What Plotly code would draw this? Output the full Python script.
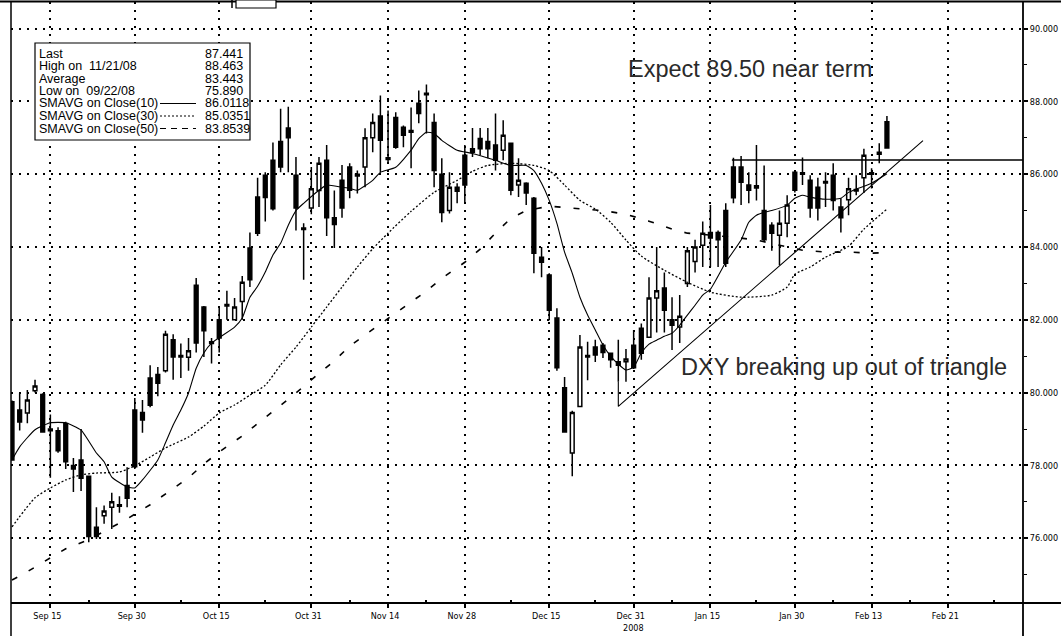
import plotly.graph_objects as go

# ---------------- data ----------------
bar_idx = list(range(115))  # trading days, Sep 8 2008 .. Feb 17 2009
opens = [79.75, 79.52, 79.44, 80.05, 79.95, 79.00, 78.95, 79.15, 78.00, 78.15,
         77.70, 76.30, 76.62, 76.85, 76.92, 77.45, 79.52, 79.45, 80.40, 80.50,
         80.60, 81.45, 81.02, 80.97, 82.95, 82.35, 81.40, 82.00, 82.42, 82.00,
         82.50, 83.97, 85.37, 85.97, 86.38, 86.90, 87.27, 85.97, 84.52, 85.07,
         85.55, 86.38, 84.80, 85.83, 86.20, 86.00, 86.20, 87.00, 87.60, 86.45,
         87.56, 87.29, 87.20, 87.95, 88.22, 87.42, 86.00, 85.00, 85.64, 86.52,
         86.70, 86.98, 86.90, 86.80, 86.66, 86.85, 85.70, 85.75, 85.34, 83.72,
         83.23, 82.05, 80.13, 78.34, 79.62, 81.02, 81.25, 81.30, 81.08, 80.85,
         80.85, 81.30, 81.77, 81.52, 82.60, 82.87, 82.00, 81.80, 83.00, 83.60,
         84.05, 84.40, 84.40, 85.00, 86.20, 86.20, 85.70, 85.68, 85.00, 84.60,
         84.32, 84.65, 86.05, 86.04, 85.83, 85.64, 85.80, 85.97, 85.10, 85.30,
         85.58, 85.90, 86.04, 86.55, 87.44]
highs = [79.78, 79.98, 80.07, 80.35, 79.98, 79.40, 79.05, 79.20, 78.20, 79.00,
         77.72, 76.85, 76.90, 77.25, 77.15, 77.95, 79.85, 79.80, 80.75, 80.70,
         81.70, 81.60, 81.35, 81.50, 83.15, 82.38, 81.50, 82.35, 82.80, 82.60,
         83.20, 84.40, 85.90, 86.05, 86.87, 87.80, 87.85, 86.47, 84.65, 86.20,
         86.47, 86.80, 85.55, 86.25, 86.30, 86.10, 87.26, 87.67, 88.16, 87.75,
         87.70, 87.34, 87.83, 88.30, 88.463, 87.67, 86.44, 86.05, 85.75, 86.80,
         87.27, 87.27, 87.27, 87.67, 87.48, 86.87, 86.44, 85.78, 85.37, 84.00,
         83.28, 82.32, 80.43, 79.50, 81.58, 81.40, 81.45, 81.36, 81.10, 81.45,
         81.20, 81.72, 81.90, 83.17, 84.00, 83.30, 82.62, 82.68, 84.00, 84.20,
         84.70, 85.15, 84.45, 85.20, 86.45, 86.50, 86.05, 86.80, 86.24, 84.68,
         85.00, 85.42, 86.10, 86.46, 85.97, 85.90, 86.05, 86.30, 85.34, 85.90,
         85.97, 86.70, 86.16, 86.85, 87.60]
lows = [78.13, 78.96, 79.16, 80.00, 78.90, 77.66, 78.35, 77.90, 77.27, 77.30,
        75.89, 75.98, 76.40, 76.25, 76.70, 76.85, 77.90, 78.90, 79.60, 79.90,
        80.55, 80.35, 80.40, 80.60, 81.10, 80.98, 80.80, 81.10, 82.00, 81.98,
        82.00, 82.90, 84.30, 84.70, 85.00, 86.05, 86.05, 84.45, 83.10, 84.90,
        85.10, 84.30, 83.97, 84.80, 85.34, 85.47, 85.64, 86.60, 86.05, 86.33,
        86.70, 86.74, 86.16, 87.40, 87.12, 85.64, 84.68, 84.92, 85.20, 85.23,
        86.47, 86.52, 86.44, 86.10, 86.38, 85.42, 85.37, 85.15, 83.28, 83.17,
        81.99, 80.60, 78.90, 77.70, 79.60, 80.34, 80.84, 80.95, 80.68, 80.30,
        80.30, 80.65, 80.90, 81.50, 81.65, 81.65, 81.17, 81.36, 82.90, 83.30,
        83.45, 83.45, 83.45, 83.45, 85.20, 85.15, 85.20, 85.28, 84.15, 83.90,
        83.50, 84.27, 85.50, 85.70, 84.80, 84.73, 85.10, 85.00, 84.40, 84.87,
        85.42, 85.48, 85.61, 86.30, 86.70]
closes = [78.15, 79.19, 79.80, 80.18, 78.92, 78.95, 78.40, 78.10, 77.90, 77.65,
          76.05, 76.05, 76.75, 77.00, 76.88, 77.10, 77.96, 79.25, 79.65, 80.26,
          81.60, 80.98, 80.98, 81.15, 81.36, 81.70, 81.35, 81.50, 82.38, 82.35,
          83.03, 83.10, 84.38, 85.36, 85.05, 86.20, 87.00, 85.07, 84.48, 85.60,
          86.30, 84.80, 84.62, 85.07, 85.56, 85.95, 87.00, 87.42, 86.93, 86.40,
          86.74, 87.07, 87.15, 87.67, 88.18, 86.10, 84.95, 85.64, 85.53, 85.70,
          86.60, 86.70, 86.70, 86.38, 87.07, 85.56, 85.83, 85.48, 83.83, 83.58,
          82.26, 80.68, 78.92, 79.45, 81.25, 80.98, 81.03, 81.10, 80.90, 80.75,
          80.92, 80.68, 81.08, 82.60, 82.80, 82.26, 81.85, 82.10, 83.90, 84.00,
          84.38, 84.25, 84.20, 83.55, 85.35, 85.78, 85.56, 85.62, 84.20, 84.38,
          84.65, 85.15, 85.56, 86.00, 85.07, 85.07, 85.76, 85.28, 84.80, 85.60,
          85.54, 86.52, 86.00, 86.60, 86.72]

sma10_x = [0, 1, 3, 5, 7, 9, 11, 12, 13, 15, 16, 17, 19, 20, 21, 22, 23, 24, 25, 26,
           29, 30, 31, 32, 33, 34, 35, 36, 37, 38, 40, 41, 43, 44, 45, 47, 48, 50, 52, 53,
           54, 55, 56, 58, 60, 63, 65, 67, 68, 69, 70, 71, 72, 73, 74, 75, 76, 77, 78, 79,
           80, 81, 82, 83, 84, 85, 86, 87, 88, 89, 90, 91, 93, 95, 96, 97, 98, 99, 101, 102,
           103, 104, 106, 108, 109, 110, 112, 114]
sma10_y = [78.15, 78.51, 78.98, 79.17, 79.17, 78.97, 78.34, 78.10, 77.68, 77.41,
           77.38, 77.60, 78.15, 78.62, 79.11, 79.52, 79.99, 80.67, 81.09, 81.36,
           81.80, 82.05, 82.62, 82.92, 83.31, 83.78, 84.10, 84.60, 85.00, 85.20,
           85.56, 85.70, 85.64, 85.61, 85.56, 85.83, 86.05, 86.19, 86.66, 86.98,
           87.15, 87.12, 86.93, 86.66, 86.57, 86.38, 86.24, 86.24, 86.10, 85.75,
           85.28, 84.65, 83.86, 83.28, 82.62, 82.13, 81.72, 81.31, 81.00, 80.78,
           80.62, 80.70, 81.09, 81.33, 81.44, 81.55, 81.63, 81.85, 82.13, 82.40,
           82.68, 82.84, 83.58, 84.19, 84.68, 84.87, 84.95, 85.00, 85.15, 85.34,
           85.42, 85.37, 85.31, 85.34, 85.50, 85.59, 85.75, 86.01]

sma30_x = [0, 3, 5, 7, 9, 11, 14, 16, 18, 20, 23, 25, 27, 29, 31, 33, 35, 37, 39, 41,
           43, 45, 47, 49, 52, 55, 58, 60, 62, 65, 68, 70, 72, 74, 76, 78, 80, 82, 85, 88,
           91, 95, 99, 101, 102, 104, 106, 109, 111, 114]
sma30_y = [76.31, 77.11, 77.38, 77.60, 77.74, 77.79, 77.82, 77.99, 78.23, 78.48,
           78.78, 79.08, 79.44, 79.66, 79.93, 80.20, 80.76, 81.25, 81.80, 82.35,
           82.90, 83.45, 83.95, 84.38, 84.98, 85.50, 85.83, 86.08, 86.24, 86.30,
           86.24, 86.10, 85.70, 85.28, 85.04, 84.68, 84.19, 83.75, 83.36, 83.03,
           82.76, 82.62, 82.68, 82.90, 83.25, 83.45, 83.72, 84.02, 84.49, 85.04]

sma50_x = [0, 2, 5, 7, 10, 15, 18, 20, 23, 25, 27, 30, 32, 35, 37, 39, 42, 44, 46, 49,
           51, 54, 56, 59, 61, 63, 65, 67, 70, 74, 77, 80, 83, 86, 88, 94, 97, 100, 103, 106,
           109, 112, 114]
sma50_y = [74.85, 75.08, 75.46, 75.71, 75.96, 76.53, 76.92, 77.22, 77.66, 78.04,
           78.37, 78.81, 79.14, 79.66, 79.99, 80.35, 80.87, 81.28, 81.58, 82.05,
           82.35, 82.79, 83.14, 83.58, 83.94, 84.38, 84.79, 85.00, 85.12, 85.06,
           85.00, 84.90, 84.71, 84.49, 84.38, 84.27, 84.19, 84.05, 83.91, 83.86,
           83.86, 83.83, 83.85]

# hand-drawn triangle lines
trend_x = [79, 79, 118.7]
trend_y = [80.30, 79.62, 86.92]
resist_x = [93.8, 131.73]
resist_y = [86.39, 86.39]

tick_idx = [5, 16, 27, 39, 49, 59, 70, 81, 91, 102, 112, 122]
tick_text = ["Sep 15", "Sep 30", "Oct 15", "Oct 31", "Nov 14", "Nov 28",
             "Dec 15", "Dec 31", "Jan 15", "Jan 30", "Feb 13", "Feb 21"]
minor_idx = [10, 22, 33, 44, 54, 65, 76, 86, 97, 107, 117, 128]
y_major = [76, 78, 80, 82, 84, 86, 88, 90]
y_minor = [75, 77, 79, 81, 83, 85, 87, 89]

legend_labels = ["Last", "High on  11/21/08", "Average", "Low on  09/22/08",
                 "SMAVG on Close(10)", "SMAVG on Close(30)", "SMAVG on Close(50)"]
legend_values = ["87.441", "88.463", "83.443", "75.890", "86.0118", "85.0351", "83.8539"]

# ---------------- layout helpers ----------------
W, H = 1061, 636
PL, PR, PT, PB = 11, 1023, 2, 603


def px(x):
    return (x - PL) / (PR - PL)


def py(y):
    return (PB - y) / (PB - PT)


fig = go.Figure()

fig.add_trace(go.Scatter(x=sma30_x, y=sma30_y, mode="lines",
                         line=dict(color="black", width=1.3, dash="2px,2px", shape="spline", smoothing=0.6),
                         hoverinfo="skip", showlegend=False))
fig.add_trace(go.Scatter(x=sma50_x, y=sma50_y, mode="lines",
                         line=dict(color="black", width=1.6, dash="6px,13px"),
                         hoverinfo="skip", showlegend=False))
fig.add_trace(go.Candlestick(x=bar_idx, open=opens, high=highs, low=lows, close=closes,
                             increasing=dict(line=dict(color="black", width=1.5), fillcolor="white"),
                             decreasing=dict(line=dict(color="black", width=1.5), fillcolor="black"),
                             whiskerwidth=0, showlegend=False))
fig.add_trace(go.Scatter(x=sma10_x, y=sma10_y, mode="lines",
                         line=dict(color="black", width=1.1, shape="spline", smoothing=0.5),
                         hoverinfo="skip", showlegend=False))
fig.add_trace(go.Scatter(x=trend_x, y=trend_y, mode="lines",
                         line=dict(color="black", width=1.1), hoverinfo="skip", showlegend=False))
fig.add_trace(go.Scatter(x=resist_x, y=resist_y, mode="lines",
                         line=dict(color="black", width=1.6), hoverinfo="skip", showlegend=False,
                         cliponaxis=False))

small_font = dict(family="Liberation Sans Narrow, DejaVu Sans Condensed, Arial Narrow, Arial, sans-serif",
                  size=9, color="black")

fig.update_layout(
    width=W, height=H,
    margin=dict(l=PL, r=W - PR, t=PT, b=H - PB, pad=0),
    paper_bgcolor="white", plot_bgcolor="white",
    showlegend=False,
    xaxis=dict(range=[-0.13, 131.73], tickmode="array", tickvals=tick_idx, ticktext=tick_text,
               showgrid=True, gridcolor="black", gridwidth=1.5, griddash="2px,6px",
               zeroline=False, showline=False, ticks="outside", ticklen=4, tickwidth=1.5,
               tickcolor="black", tickfont=small_font, ticklabelshift=-3,
               minor=dict(tickmode="array", tickvals=minor_idx, ticks="inside", ticklen=3,
                          tickwidth=1.5, tickcolor="black", showgrid=False),
               rangeslider=dict(visible=False), fixedrange=True),
    yaxis=dict(range=[74.22, 90.73], side="right", tickmode="array", tickvals=y_major,
               tickformat=".3f", showgrid=True, gridcolor="black", gridwidth=1.5,
               griddash="2px,6px", zeroline=False, showline=False, ticks="outside",
               ticklen=4, tickwidth=1.5, tickcolor="black", tickfont=small_font,
               minor=dict(tickmode="array", tickvals=y_minor, ticks="outside", ticklen=3,
                          tickwidth=1, tickcolor="black", showgrid=False),
               fixedrange=True),
)

shapes = []
# frame lines
shapes.append(dict(type="line", xref="paper", yref="paper", x0=px(PL), x1=px(PL), y0=py(636), y1=py(2),
                   line=dict(color="black", width=1.5)))
shapes.append(dict(type="line", xref="paper", yref="paper", x0=px(PR), x1=px(PR), y0=py(636), y1=py(2),
                   line=dict(color="black", width=1.8)))
shapes.append(dict(type="line", xref="paper", yref="paper", x0=px(PL), x1=px(1061), y0=py(PB), y1=py(PB),
                   line=dict(color="black", width=1.8)))
shapes.append(dict(type="line", xref="paper", yref="paper", x0=px(0), x1=px(1061), y0=py(1.5), y1=py(1.5),
                   line=dict(color="black", width=2)))
# header tabs
shapes.append(dict(type="line", xref="paper", yref="paper", x0=px(232), x1=px(232), y0=py(8), y1=py(0),
                   line=dict(color="black", width=1.5)))
shapes.append(dict(type="rect", xref="paper", yref="paper", x0=px(236), x1=px(276), y0=py(8), y1=py(0),
                   line=dict(color="black", width=1.2), fillcolor="white"))
# legend box
shapes.append(dict(type="rect", xref="paper", yref="paper", x0=px(35), x1=px(250), y0=py(140), y1=py(43),
                   line=dict(color="black", width=1.2), fillcolor="white", layer="above"))

row_y = [53.5, 66, 78.5, 91, 103.5, 116, 128.5]
sample_dash = ["solid", "2px,2px", "6px,5px"]
for k, dsh in enumerate(sample_dash):
    yy = row_y[4 + k]
    shapes.append(dict(type="line", xref="paper", yref="paper", x0=px(160), x1=px(196),
                       y0=py(yy), y1=py(yy), layer="above",
                       line=dict(color="black", width=1.2, dash=dsh)))
fig.update_layout(shapes=shapes)

ann = []
leg_font = dict(family="Liberation Sans, Arial, sans-serif", size=12.5, color="black")
for lab, val, yy in zip(legend_labels, legend_values, row_y):
    ann.append(dict(xref="paper", yref="paper", x=px(37), y=py(yy), text=lab, showarrow=False,
                    xanchor="left", yanchor="middle", font=leg_font))
    ann.append(dict(xref="paper", yref="paper", x=px(203), y=py(yy), text=val, showarrow=False,
                    xanchor="left", yanchor="middle", font=leg_font))

big_font = dict(family="Liberation Sans, Arial, sans-serif", size=23.5, color="#2a2a2a")
ann.append(dict(xref="paper", yref="paper", x=px(626), y=py(69), text="Expect 89.50 near term",
                showarrow=False, xanchor="left", yanchor="middle", font=big_font))
ann.append(dict(xref="paper", yref="paper", x=px(679), y=py(367), text="DXY breaking up out of triangle",
                showarrow=False, xanchor="left", yanchor="middle", font=big_font))
ann.append(dict(xref="x", yref="paper", x=81, y=py(628), text="2008", showarrow=False,
                xanchor="center", yanchor="middle", font=small_font))
fig.update_layout(annotations=ann)

fig.write_html("out.html", config={"displayModeBar": False},
               post_script="document.body.style.margin='0';document.body.style.padding='0';"
                           "document.body.style.overflow='hidden';")
